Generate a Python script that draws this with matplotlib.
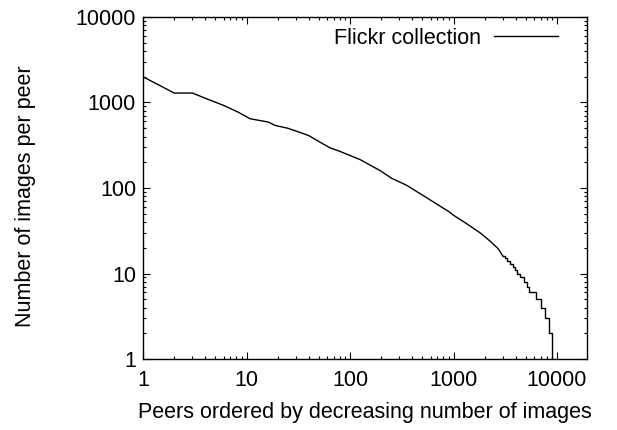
import matplotlib
matplotlib.use("Agg")
import matplotlib.pyplot as plt

plt.rcParams["font.family"] = ["Liberation Sans", "DejaVu Sans"]

# parte suave de la curva (rango, imagenes)
head_rank = [1, 2, 3, 4, 6, 8.3, 10.8, 16.3, 18.8, 25, 33, 40, 51, 64, 80,
             100, 125, 195, 255, 304, 355, 550, 900, 1000, 1350, 1800, 2250,
             2700, 3000]
head_imgs = [2000, 1290, 1290, 1120, 925, 771, 646, 590, 540, 500, 446, 410,
             345, 295, 268, 240, 215, 160, 129, 117, 107, 77, 53, 48, 38, 30,
             24, 19.5, 16]

# cola en escalones (rango donde empieza cada nivel)
tail_rank = [3000, 3150, 3300, 3510, 3720, 3930, 4140, 4400, 4790, 5100,
             5400, 6250, 6980, 7650, 8300, 8870]
tail_imgs = [16, 15, 14, 13, 12, 11, 10, 9, 8, 7, 6, 5, 4, 3, 2, 1]

fig = plt.figure(figsize=(6.17, 4.30), dpi=100)
fig.subplots_adjust(left=0.2318, right=0.9514, top=0.9605, bottom=0.1651)
ax = fig.add_subplot(111)

ax.plot(head_rank, head_imgs, color="black", lw=1.0, label="Flickr collection")
ax.plot(tail_rank, tail_imgs, color="black", lw=1.0, drawstyle="steps-post")

ax.set_xscale("log")
ax.set_yscale("log")
ax.set_xlim(1, 19500)
ax.set_ylim(1, 10000)
ax.set_xticks([1, 10, 100, 1000, 10000])
ax.set_xticklabels(["1", "10", "100", "1000", "10000"])
ax.set_yticks([1, 10, 100, 1000, 10000])
ax.set_yticklabels(["1", "10", "100", "1000", "10000"])

fs = 15.5
ax.tick_params(which="both", direction="in", top=True, right=True, labelsize=fs)
ax.tick_params(which="major", length=5, width=0.8)
ax.tick_params(axis="x", which="major", pad=8)
ax.tick_params(axis="y", which="major", pad=5)
ax.tick_params(which="minor", length=2.5, width=0.8)
for s in ax.spines.values():
    s.set_linewidth(1.0)

ax.set_xlabel("Peers ordered by decreasing number of images", fontsize=fs, labelpad=8)
ax.set_ylabel("Number of images per peer", fontsize=fs)
ax.yaxis.set_label_coords(-0.24, 0.475)

ax.legend(loc="upper right", frameon=False, markerfirst=False, fontsize=fs,
          handlelength=3.0, handletextpad=0.6, borderaxespad=0.1,
          bbox_to_anchor=(0.96, 1.0))

fig.savefig("out.png", dpi=100)
